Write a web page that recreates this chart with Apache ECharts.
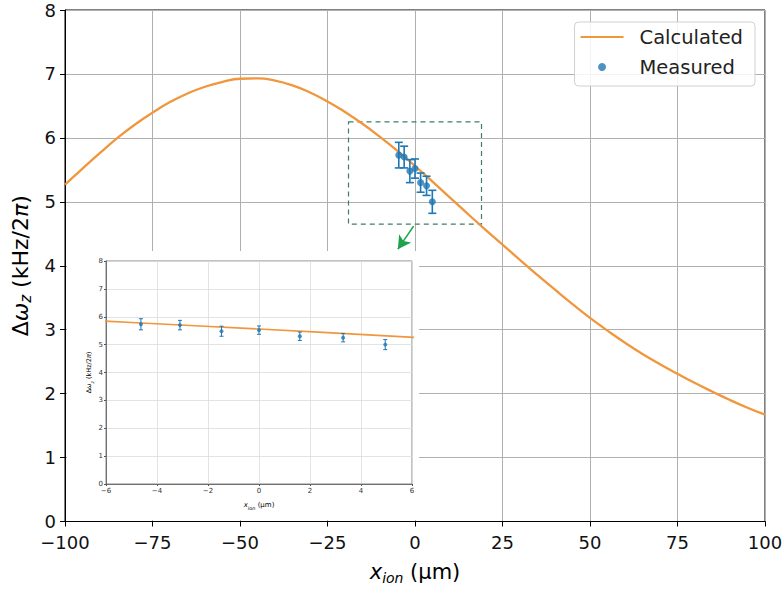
<!DOCTYPE html>
<html>
<head>
<meta charset="utf-8">
<script src="https://cdn.jsdelivr.net/npm/echarts@6/dist/echarts.min.js"></script>
<style>
  html, body { margin: 0; padding: 0; background: #ffffff; }
  #chart { width: 783px; height: 589px; }
</style>
</head>
<body>
<div id="chart"></div>
<script>
// Calculated trap-frequency shift along the ion position (kHz/2π vs µm)
const calcX = [-100, -95, -90, -85, -80, -75, -70, -65, -60, -55, -50, -45, -40, -35, -30, -25, -20, -15, -10, -5,
               0, 5, 10, 15, 20, 25, 30, 35, 40, 45, 50, 55, 60, 65, 70, 75, 80, 85, 90, 95, 100];
const calcY = [5.27, 5.52, 5.765, 6.00, 6.21, 6.395, 6.56, 6.695, 6.80, 6.875, 6.925, 6.93, 6.895, 6.82, 6.71, 6.57, 6.405, 6.22, 6.015, 5.795,
               5.56, 5.315, 5.065, 4.815, 4.57, 4.33, 4.09, 3.855, 3.625, 3.40, 3.185, 2.985, 2.795, 2.62, 2.46, 2.31, 2.165, 2.03, 1.90, 1.78, 1.67];

// Measured points with their uncertainties
const measX = [-4.63, -3.10, -1.47, 0.00, 1.60, 3.30, 4.95];
const measY = [5.73, 5.70, 5.48, 5.52, 5.30, 5.25, 5.00];
const measErr = [0.20, 0.17, 0.18, 0.15, 0.15, 0.15, 0.18];

// Zoom window outlined on the main plot, and the pointer towards the inset
const zoomBoxX = [-19, 19];
const zoomBoxY = [4.65, 6.25];
const pointerFrom = [-0.4, 4.62];
const pointerTo = [-4.9, 4.26];

// Axis ranges and tick steps
const mainXRange = [-100, 100], mainXStep = 25;
const mainYRange = [0, 8], mainYStep = 1;
const insetXRange = [-6, 6], insetXStep = 2;
const insetYRange = [0, 8], insetYStep = 1;

const FONT = 'DejaVu Sans';
const ORANGE = '#f0963c';
const BLUE = '#1f77b4';

const calcData = calcX.map((x, i) => [x, calcY[i]]);
const measData = measX.map((x, i) => [x, measY[i]]);
const errData = measX.map((x, i) => [x, measY[i], measErr[i]]);

const minusFmt = v => (v < 0 ? '\u2212' + Math.abs(v) : String(v));

function errorBars(capHalf, lw) {
  return function (params, api) {
    const x = api.value(0), y = api.value(1), e = api.value(2);
    const top = api.coord([x, y + e]);
    const bot = api.coord([x, y - e]);
    const style = { stroke: BLUE, lineWidth: lw };
    return {
      type: 'group',
      children: [
        { type: 'line', shape: { x1: top[0], y1: top[1], x2: bot[0], y2: bot[1] }, style },
        { type: 'line', shape: { x1: top[0] - capHalf, y1: top[1], x2: top[0] + capHalf, y2: top[1] }, style },
        { type: 'line', shape: { x1: bot[0] - capHalf, y1: bot[1], x2: bot[0] + capHalf, y2: bot[1] }, style }
      ]
    };
  };
}

function nameRich(big, small) {
  return {
    i: { fontFamily: FONT, fontStyle: 'italic', fontSize: big, lineHeight: big + 4, color: '#000' },
    n: { fontFamily: FONT, fontSize: big, lineHeight: big + 4, color: '#000' },
    s: { fontFamily: FONT, fontStyle: 'italic', fontSize: small, lineHeight: small, verticalAlign: 'bottom', color: '#000' }
  };
}

const xName = '{i|x}{s|ion}{n| (μm)}';
const yName = '{n|Δ}{i|ω}{s|z}{n| (kHz/2}{i|π}{n|)}';

const chart = echarts.init(document.getElementById('chart'), null, { renderer: 'svg' });

chart.setOption({
  animation: false,
  backgroundColor: '#ffffff',
  textStyle: { fontFamily: FONT },
  grid: [
    { left: 65, right: 18, top: 10, bottom: 67.5, show: true, borderColor: '#000', borderWidth: 1,
      backgroundColor: 'transparent', containLabel: false, outerBoundsMode: 'none' },
    { left: 106, right: 371, top: 261, bottom: 105, show: true, borderColor: '#666', borderWidth: 0.8,
      backgroundColor: '#ffffff', containLabel: false, outerBoundsMode: 'none', z: 6 }
  ],
  graphic: [
    { type: 'rect', z: 5, silent: true, shape: { x: 67, y: 251, width: 352, height: 269 }, style: { fill: '#ffffff' } }
  ],
  legend: {
    orient: 'vertical',
    right: 28,
    top: 22,
    padding: [4, 12, 8, 6],
    itemGap: 8,
    itemWidth: 43,
    itemHeight: 8,
    selectedMode: false,
    borderColor: '#d0d0d0',
    borderWidth: 1,
    borderRadius: 4,
    backgroundColor: 'rgba(255,255,255,0.85)',
    textStyle: { fontFamily: FONT, fontSize: 19.5, color: '#222', lineHeight: 22, padding: [0, 0, 0, 11] },
    data: [
      { name: 'Calculated', icon: 'path://M0 0H100V5H0Z', itemStyle: { color: ORANGE } },
      { name: 'Measured', icon: 'circle', itemStyle: { color: BLUE } }
    ]
  },
  xAxis: [
    {
      type: 'value', gridIndex: 0, min: mainXRange[0], max: mainXRange[1], interval: mainXStep,
      name: xName, nameLocation: 'middle', nameGap: 38,
      nameTextStyle: { rich: nameRich(21, 14) },
      axisLine: { show: true, onZero: false, lineStyle: { color: '#000', width: 1 } },
      axisTick: { show: true, inside: false, length: 5, lineStyle: { color: '#000' } },
      axisLabel: { fontFamily: FONT, fontSize: 18, color: '#111', margin: 12, formatter: minusFmt },
      splitLine: { show: true, lineStyle: { color: '#b0b0b0', width: 1 } }
    },
    {
      type: 'value', gridIndex: 1, min: insetXRange[0], max: insetXRange[1], interval: insetXStep, z: 7,
      name: xName, nameLocation: 'middle', nameGap: 15,
      nameTextStyle: { rich: nameRich(7, 5) },
      axisLine: { show: true, onZero: false, lineStyle: { color: '#555', width: 0.8 } },
      axisTick: { show: true, inside: false, length: 2, lineStyle: { color: '#555' } },
      axisLabel: { fontFamily: FONT, fontSize: 7, color: '#333', margin: 3, formatter: minusFmt },
      splitLine: { show: true, lineStyle: { color: '#dcdcdc', width: 0.8 } }
    }
  ],
  yAxis: [
    {
      type: 'value', gridIndex: 0, min: mainYRange[0], max: mainYRange[1], interval: mainYStep,
      name: yName, nameLocation: 'middle', nameGap: 31, nameRotate: 90,
      nameTextStyle: { rich: nameRich(22, 15) },
      axisLine: { show: true, onZero: false, lineStyle: { color: '#000', width: 1 } },
      axisTick: { show: true, inside: false, length: 5, lineStyle: { color: '#000' } },
      axisLabel: { fontFamily: FONT, fontSize: 18, color: '#111', margin: 9 },
      splitLine: { show: true, lineStyle: { color: '#b0b0b0', width: 1 } }
    },
    {
      type: 'value', gridIndex: 1, min: insetYRange[0], max: insetYRange[1], interval: insetYStep, z: 7,
      name: yName, nameLocation: 'middle', nameGap: 11, nameRotate: 90,
      nameTextStyle: { rich: nameRich(6.5, 4.5) },
      axisLine: { show: true, onZero: false, lineStyle: { color: '#555', width: 0.8 } },
      axisTick: { show: true, inside: false, length: 2, lineStyle: { color: '#555' } },
      axisLabel: { fontFamily: FONT, fontSize: 7, color: '#333', margin: 3 },
      splitLine: { show: true, lineStyle: { color: '#dcdcdc', width: 0.8 } }
    }
  ],
  series: [
    {
      name: 'Calculated', type: 'line', xAxisIndex: 0, yAxisIndex: 0,
      data: calcData, smooth: true, symbol: 'none', showSymbol: false, z: 3,
      lineStyle: { color: ORANGE, width: 2.3 }, itemStyle: { color: ORANGE },
      markArea: {
        silent: true,
        itemStyle: { color: 'rgba(0,0,0,0)', borderColor: '#3f7f5f', borderWidth: 1.2, borderType: [5, 4] },
        data: [[{ coord: [zoomBoxX[0], zoomBoxY[1]] }, { coord: [zoomBoxX[1], zoomBoxY[0]] }]]
      },
      markLine: {
        silent: true,
        symbol: ['none', 'arrow'],
        symbolSize: [11, 13],
        label: { show: false },
        lineStyle: { color: '#1ea34d', width: 1.6, type: 'solid' },
        data: [[{ coord: pointerFrom }, { coord: pointerTo }]]
      }
    },
    {
      name: 'Measured', type: 'scatter', xAxisIndex: 0, yAxisIndex: 0,
      data: measData, symbol: 'circle', symbolSize: 7, z: 5,
      itemStyle: { color: BLUE }
    },
    {
      name: 'Measured error', type: 'custom', xAxisIndex: 0, yAxisIndex: 0,
      data: errData, encode: { x: 0, y: 1 }, z: 4,
      renderItem: errorBars(4, 1.6)
    },
    {
      name: 'Calculated inset', type: 'line', xAxisIndex: 1, yAxisIndex: 1,
      data: calcData, smooth: true, symbol: 'none', z: 8, clip: true,
      lineStyle: { color: ORANGE, width: 1.6 }
    },
    {
      name: 'Measured error inset', type: 'custom', xAxisIndex: 1, yAxisIndex: 1,
      data: errData, encode: { x: 0, y: 1 }, z: 9,
      renderItem: errorBars(2, 1)
    },
    {
      name: 'Measured inset', type: 'scatter', xAxisIndex: 1, yAxisIndex: 1,
      data: measData, symbol: 'circle', symbolSize: 4, z: 10,
      itemStyle: { color: BLUE }
    }
  ]
});
</script>
</body>
</html>
